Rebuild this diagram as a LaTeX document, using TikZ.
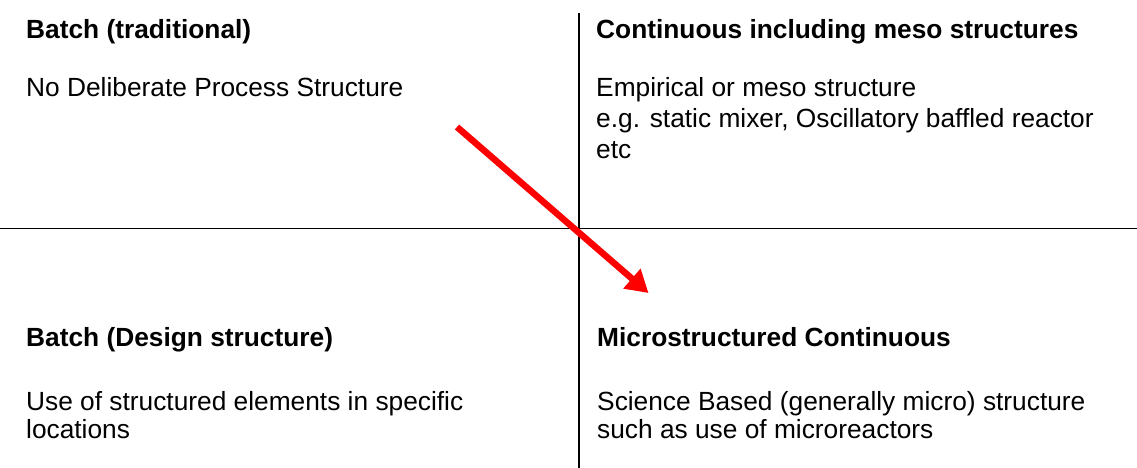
\documentclass[tikz,border=0pt]{standalone}
\usepackage{fontspec}
\setmainfont{Liberation Sans}
\usetikzlibrary{arrows.meta}
\begin{document}
\begin{tikzpicture}[x=1pt,y=-1pt,
  txt/.style={anchor=base west,inner sep=0pt,font=\fontsize{26.3}{30}\selectfont},
  head/.style={txt,font=\fontsize{26.3}{30}\selectfont\bfseries},
  axis/.style={line width=1.8pt,black},
  trend/.style={line width=6.5pt,red,-{Triangle[length=22pt,width=25pt]}}]
\useasboundingbox (0,0) rectangle (1137,468);
\fill[white] (0,0) rectangle (1137,468);

% quadrant dividers
\coordinate (vtop) at (579,13);
\coordinate (vbot) at (579,468);
\coordinate (hl) at (0,228.5);
\coordinate (hr) at (1137,228.5);
\draw[axis] (vtop) -- (vbot);
\draw[axis] (hl) -- (hr);

% top left
\node[head] (tlh) at (26,38.5) {Batch (traditional)};
\node[txt]  (tlb) at (26,97) {No Deliberate Process Structure};

% top right
\node[head] (trh) at (596,38.5) {Continuous including meso structures};
\node[txt]  (trb1) at (596,97) {Empirical or meso structure};
\node[txt]  (trb2) at (596,128) {e.g. static mixer, Oscillatory baffled reactor};
\node[txt]  (trb3) at (596,158.5) {etc};

% bottom left
\node[head] (blh) at (26,346.7) {Batch (Design structure)};
\node[txt]  (blb1) at (26,410) {Use of structured elements in specific};
\node[txt]  (blb2) at (26,438.5) {locations};

% bottom right
\node[head] (brh) at (597,346.7) {Microstructured Continuous};
\node[txt]  (brb1) at (597,410) {Science Based (generally micro) structure};
\node[txt]  (brb2) at (597,438.5) {such as use of microreactors};

% direction of development
\coordinate (from) at (457,127);
\coordinate (to) at (648.5,293);
\draw[trend] (from) -- (to);
\end{tikzpicture}
\end{document}
